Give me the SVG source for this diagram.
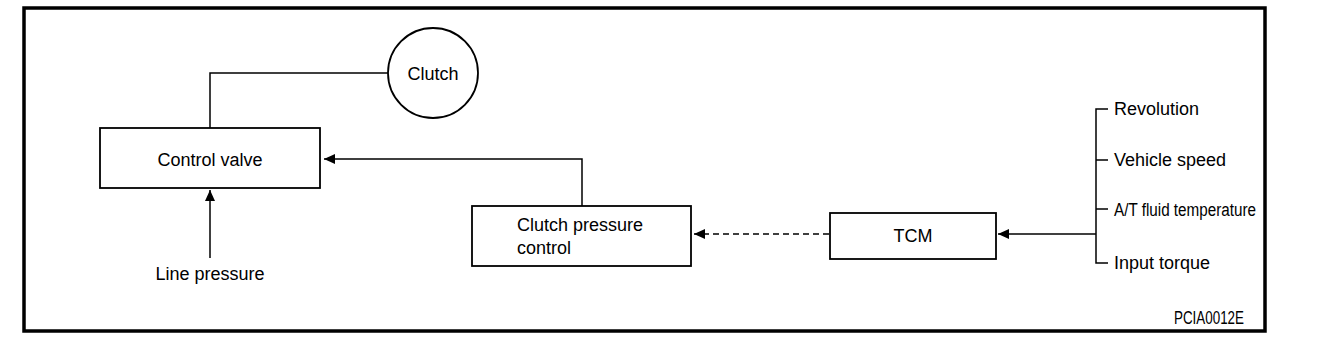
<svg xmlns="http://www.w3.org/2000/svg" width="1328" height="344" viewBox="0 0 1328 344">
<style>
text{font-family:"Liberation Sans",Arial,sans-serif;font-size:18px;fill:#000}
.box{fill:#fff;stroke:#000;stroke-width:1.8}
.ln{fill:none;stroke:#000;stroke-width:1.5}
</style>
<defs>
<marker id="ah" markerUnits="userSpaceOnUse" markerWidth="12" markerHeight="10" refX="11" refY="5" orient="auto">
<path d="M0,0 L11,5 L0,10 Z" fill="#000"/>
</marker>
</defs>
<rect x="24" y="8" width="1241" height="323" fill="#fff" stroke="#000" stroke-width="3.5"/>
<g id="connectors">
<path class="ln" d="M388,73 H210 V128" stroke-width="2"/>
<path class="ln" d="M210,258 V190" marker-end="url(#ah)"/>
<path class="ln" d="M582,206 V159 H324" marker-end="url(#ah)"/>
<path class="ln" d="M829,234 H694" stroke-dasharray="6 4" marker-end="url(#ah)"/>
<path class="ln" d="M1096,234 H998" stroke-width="2.2" marker-end="url(#ah)"/>
<path class="ln" d="M1108,109 H1096 V263 H1108 M1096,160 H1108 M1096,209 H1108"/>
</g>
<g id="clutch">
<circle cx="433" cy="73" r="45" class="box"/>
<text x="433" y="80" text-anchor="middle">Clutch</text>
</g>
<g id="control-valve">
<rect x="100" y="128" width="220" height="60" class="box"/>
<text x="210" y="166" text-anchor="middle">Control valve</text>
</g>
<g id="line-pressure">
<text x="210" y="280" text-anchor="middle">Line pressure</text>
</g>
<g id="clutch-pressure-control">
<rect x="472" y="206" width="219" height="60" class="box" stroke-width="2"/>
<text x="517" y="231">Clutch pressure</text>
<text x="517" y="254">control</text>
</g>
<g id="tcm">
<rect x="830" y="213" width="166" height="46" class="box"/>
<text x="913" y="242" text-anchor="middle">TCM</text>
</g>
<g id="inputs">
<text x="1114" y="115">Revolution</text>
<text x="1114" y="166">Vehicle speed</text>
<text x="1114" y="216" textLength="142" lengthAdjust="spacingAndGlyphs">A/T fluid temperature</text>
<text x="1114" y="269">Input torque</text>
</g>
<text x="1174" y="324" font-size="13.5" textLength="70" lengthAdjust="spacingAndGlyphs">PCIA0012E</text>
</svg>
